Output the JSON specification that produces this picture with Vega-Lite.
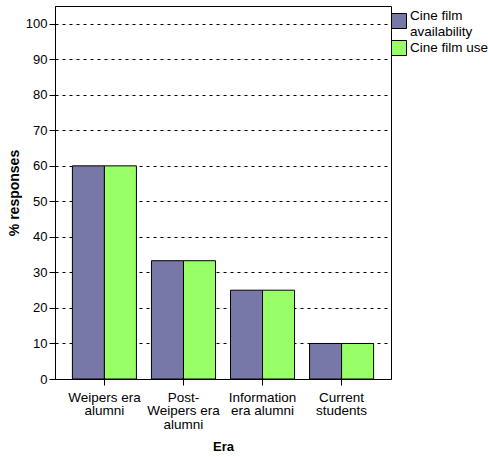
{
  "$schema": "https://vega.github.io/schema/vega-lite/v6.json",
  "autosize": "none",
  "width": 336,
  "height": 373,
  "padding": {"left": 55, "top": 6, "right": 97, "bottom": 78},
  "background": "white",
  "config": {
    "font": "Liberation Sans",
    "view": {"stroke": "black", "strokeWidth": 1}
  },
  "data": {
    "values": [
      {"era": "Weipers era alumni", "series": "Cine film availability", "pct": 60},
      {"era": "Weipers era alumni", "series": "Cine film use", "pct": 60},
      {"era": "Post-Weipers era alumni", "series": "Cine film availability", "pct": 33.3},
      {"era": "Post-Weipers era alumni", "series": "Cine film use", "pct": 33.3},
      {"era": "Information era alumni", "series": "Cine film availability", "pct": 25},
      {"era": "Information era alumni", "series": "Cine film use", "pct": 25},
      {"era": "Current students", "series": "Cine film availability", "pct": 10},
      {"era": "Current students", "series": "Cine film use", "pct": 10}
    ]
  },
  "mark": {"type": "bar", "stroke": "black", "strokeWidth": 1},
  "encoding": {
    "x": {
      "field": "era",
      "type": "nominal",
      "sort": null,
      "scale": {"paddingInner": 0.19, "paddingOuter": 0.22},
      "axis": {
        "title": "Era",
        "titleFontSize": 13,
        "titleFontWeight": "bold",
        "titleColor": "black",
        "titlePadding": 10,
        "labelAngle": 0,
        "labelFontSize": 13.5,
        "labelColor": "black",
        "labelLineHeight": 13.5,
        "labelPadding": 5,
        "domainColor": "black",
        "tickColor": "black",
        "tickSize": 6,
        "labelExpr": "datum.value == 'Weipers era alumni' ? ['Weipers era', 'alumni'] : datum.value == 'Post-Weipers era alumni' ? ['Post-', 'Weipers era', 'alumni'] : datum.value == 'Information era alumni' ? ['Information', 'era alumni'] : ['Current', 'students']"
      }
    },
    "xOffset": {"field": "series", "type": "nominal", "scale": {"paddingInner": 0, "paddingOuter": 0}},
    "y": {
      "field": "pct",
      "type": "quantitative",
      "scale": {"domain": [0, 105], "nice": false},
      "axis": {
        "title": "% responses",
        "titleFontSize": 14,
        "titleFontWeight": "bold",
        "titleColor": "black",
        "titlePadding": 4,
        "values": [0, 10, 20, 30, 40, 50, 60, 70, 80, 90, 100],
        "labelFontSize": 13,
        "labelColor": "black",
        "labelPadding": 2,
        "domainColor": "black",
        "tickColor": "black",
        "tickSize": 6,
        "grid": true,
        "gridColor": "black",
        "gridDash": [3, 4],
        "gridOpacity": 1,
        "gridWidth": 1
      }
    },
    "color": {
      "field": "series",
      "type": "nominal",
      "scale": {"range": ["#7878a8", "#99ff66"]},
      "legend": {
        "title": null,
        "orient": "none",
        "legendX": 336,
        "legendY": 7,
        "symbolType": "square",
        "symbolSize": 225,
        "symbolStrokeColor": "black",
        "symbolStrokeWidth": 1,
        "symbolOpacity": 1,
        "labelFontSize": 13.5,
        "labelColor": "black",
        "labelLineHeight": 12,
        "labelOffset": 3,
        "rowPadding": 0,
        "padding": 0,
        "labelExpr": "datum.value == 'Cine film availability' ? ['Cine film', 'availability'] : datum.value",
        "encode": {
          "labels": {
            "update": {
              "dy": {"signal": "datum.value == 'Cine film availability' ? -5 : 0"}
            }
          }
        }
      }
    }
  }
}
